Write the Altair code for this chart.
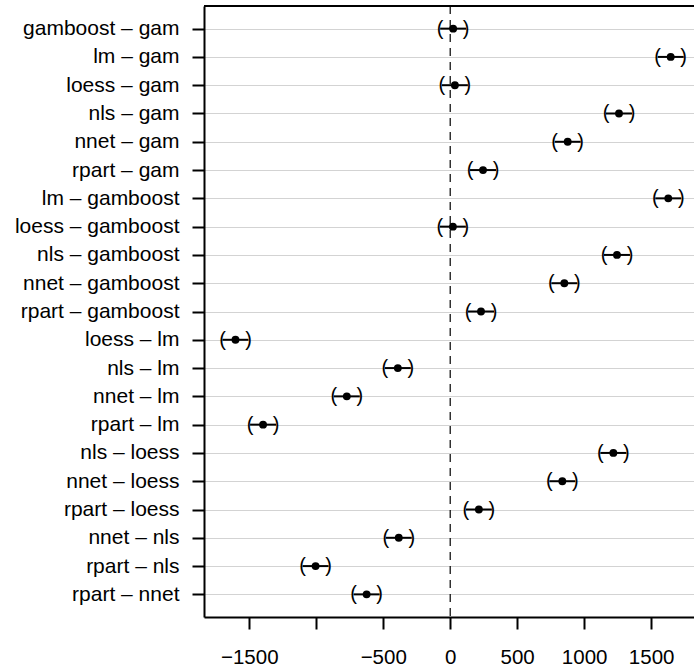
import altair as alt
import pandas as pd

comparisons = [
    "gamboost – gam", "lm – gam", "loess – gam", "nls – gam", "nnet – gam",
    "rpart – gam", "lm – gamboost", "loess – gamboost", "nls – gamboost",
    "nnet – gamboost", "rpart – gamboost", "loess – lm", "nls – lm",
    "nnet – lm", "rpart – lm", "nls – loess", "nnet – loess", "rpart – loess",
    "nnet – nls", "rpart – nls", "rpart – nnet",
]
estimates = [22, 1646, 35, 1260, 877, 245, 1628, 20, 1245, 852, 230,
             -1603, -391, -772, -1397, 1218, 837, 214, -384, -1005, -624]
lower = [-75, 1549, -62, 1163, 780, 148, 1531, -77, 1148, 755, 133,
         -1700, -488, -869, -1494, 1121, 740, 117, -481, -1102, -721]
upper = [119, 1743, 132, 1357, 974, 342, 1725, 117, 1342, 949, 327,
         -1506, -294, -675, -1300, 1315, 934, 311, -287, -908, -527]
x_ticks = [-1500, -1000, -500, 0, 500, 1000, 1500]
x_domain = [-1838, 1820]
zero_line = [0]

df = pd.DataFrame({"comparison": comparisons, "estimate": estimates,
                   "lwr": lower, "upr": upper})
zdf = pd.DataFrame({"v": zero_line})
bdf = pd.DataFrame({"a": [x_domain[0]], "b": [x_domain[1]]})

FONT = "Liberation Sans"
W, H = 490, 611

xscale = alt.Scale(domain=x_domain, nice=False, zero=False)
yscale = alt.Scale(type="point", domain=comparisons, padding=0.8)

xaxis = alt.Axis(title=None, values=x_ticks, grid=False, format="d",
                 labelExpr="datum.value == -1000 ? '' : datum.label",
                 labelBaseline="alphabetic", labelPadding=34,
                 labelFontSize=20.5,
                 labelFlush=False, labelOverlap=False)
yaxis = alt.Axis(title=None, grid=True, gridColor="#d3d3d3", gridWidth=1,
                 labelPadding=13, labelLimit=400, labelFontSize=21)

Y = alt.Y("comparison:N", scale=yscale, sort=comparisons, axis=yaxis)

base = alt.Chart(df)

rules = base.mark_rule(color="black", strokeWidth=2).encode(
    x=alt.X("lwr:Q", scale=xscale, axis=xaxis), x2="upr:Q", y=Y)
left = base.mark_text(text="(", font=FONT, fontSize=20, color="black",
                      align="center", baseline="middle").encode(
    x=alt.X("lwr:Q", scale=xscale, axis=xaxis), y=Y)
right = base.mark_text(text=")", font=FONT, fontSize=20, color="black",
                       align="center", baseline="middle").encode(
    x=alt.X("upr:Q", scale=xscale, axis=xaxis), y=Y)
points = base.mark_circle(color="black", opacity=1, size=62).encode(
    x=alt.X("estimate:Q", scale=xscale, axis=xaxis), y=Y)

zero = alt.Chart(zdf).mark_rule(color="black", strokeWidth=1.2,
                                 strokeDash=[8, 6]).encode(
    x=alt.X("v:Q", scale=xscale, axis=xaxis))

top = alt.Chart(bdf).mark_rule(color="black", strokeWidth=2).encode(
    x=alt.X("a:Q", scale=xscale, axis=xaxis), x2="b:Q", y=alt.value(0))

chart = alt.layer(zero, rules, left, right, points, top).properties(
    width=W, height=H,
    autosize=alt.AutoSizeParams(type="none"),
    padding={"left": 204, "top": 6, "right": 0, "bottom": 54},
).configure_view(stroke=None).configure_axis(
    domainColor="black", domainWidth=2, tickColor="black", tickWidth=2,
    tickSize=12, labelFont=FONT, labelColor="black",
)

chart.save("out.html", embed_options={"renderer": "svg", "actions": False})
